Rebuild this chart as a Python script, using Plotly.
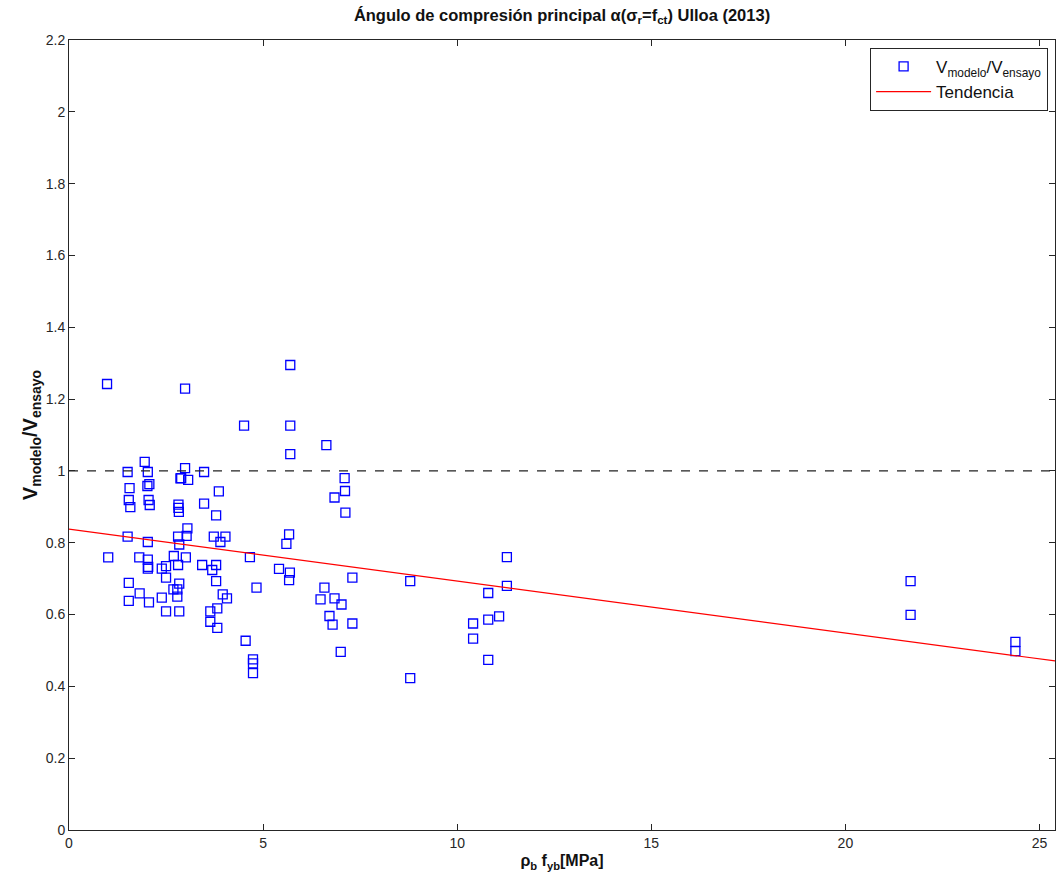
import numpy as np
import plotly.graph_objects as go

x_vals = [0.98, 1.01, 1.51, 1.56, 1.54, 1.58, 1.51, 1.54, 1.54, 1.81, 1.82,
          1.95, 2.03, 2.07, 2.02, 2.05, 2.08, 2.03, 2.03, 2.04, 2.03, 2.06,
          2.99, 4.51, 2.99, 3.48, 2.87, 2.89, 3.07, 3.86, 2.82, 2.82, 2.83, 3.48,
          3.79, 3.05, 2.81, 3.03, 2.84, 3.73, 4.03, 3.90, 2.70, 3.01, 2.81,
          2.50, 2.39, 2.50, 3.43, 3.79, 3.69, 3.79, 4.66, 2.84, 2.69, 2.79,
          2.79, 2.39, 3.96, 4.07, 4.83, 2.50, 2.84, 3.82, 3.64, 3.64, 3.82,
          4.55, 4.74, 4.74, 4.74, 6.84, 7.11, 7.12, 7.10, 5.67, 5.60, 5.41,
          5.69, 5.67, 7.30, 6.58, 6.48, 6.84, 7.02, 6.71, 6.79, 7.30, 7.00,
          5.70, 5.70, 6.63, 5.70, 11.28, 8.79, 11.28, 10.80, 11.08, 10.80,
          10.41, 10.41, 10.80, 8.79, 21.68, 21.68, 24.38, 24.38]
y_vals = [1.242, 0.759, 0.997, 0.952, 0.919, 0.899, 0.817, 0.688, 0.638, 0.759, 0.659,
          1.025, 0.997, 0.963, 0.958, 0.919, 0.905, 0.802, 0.753, 0.733, 0.728, 0.634,
          1.229, 1.126, 1.008, 0.997, 0.979, 0.980, 0.975, 0.943, 0.906, 0.897, 0.886, 0.909,
          0.876, 0.840, 0.817, 0.819, 0.795, 0.817, 0.817, 0.802, 0.763, 0.759, 0.738,
          0.735, 0.728, 0.703, 0.738, 0.738, 0.724, 0.693, 0.760, 0.686, 0.670, 0.670,
          0.650, 0.647, 0.656, 0.645, 0.675, 0.609, 0.609, 0.617, 0.609, 0.580, 0.563,
          0.527, 0.475, 0.464, 0.437, 0.926, 0.944, 0.884, 0.980, 0.823, 0.797, 0.727,
          0.717, 0.696, 0.703, 0.675, 0.642, 0.645, 0.628, 0.596, 0.572, 0.575, 0.496,
          1.295, 1.126, 1.072, 1.047, 0.760, 0.693, 0.680, 0.660, 0.595, 0.586,
          0.575, 0.533, 0.474, 0.423, 0.693, 0.599, 0.524, 0.498]

trend_x = [0.0, 25.4]
trend_intercept = 0.838
trend_slope = -0.01446
ref_level = 1.0

x_range = [0, 25.4]
y_range = [0, 2.2]
y_ticks = [0, 0.2, 0.4, 0.6, 0.8, 1, 1.2, 1.4, 1.6, 1.8, 2, 2.2]
y_ticktext = ["0", "0.2", "0.4", "0.6", "0.8", "1", "1.2", "1.4", "1.6", "1.8", "2", "2.2"]
x_ticks = [0, 5, 10, 15, 20, 25]

font_family = "Liberation Sans, Arial, sans-serif"

fig = go.Figure()
fig.add_trace(go.Scatter(
    x=x_vals, y=y_vals, mode="markers",
    name="V<sub>modelo</sub>/V<sub>ensayo</sub>",
    marker=dict(symbol="square-open", size=9, color="#0000ff", line=dict(width=1.3, color="#0000ff")),
))
tx = np.array(trend_x)
fig.add_trace(go.Scatter(
    x=tx, y=trend_intercept + trend_slope * tx, mode="lines",
    name="Tendencia", line=dict(color="#ff0000", width=1.2),
))
fig.add_trace(go.Scatter(
    x=x_range, y=[ref_level, ref_level], mode="lines", showlegend=False,
    line=dict(color="#222222", width=1.3, dash="dash"), hoverinfo="skip",
))

axis_common = dict(
    showgrid=False, zeroline=False, showline=True, linecolor="#262626", linewidth=1,
    mirror="ticks", ticks="inside", ticklen=6, tickcolor="#262626",
    tickfont=dict(family=font_family, size=14, color="#262626"),
)

fig.update_layout(
    width=1057, height=883,
    margin=dict(l=69, r=2, t=40, b=53),
    paper_bgcolor="white", plot_bgcolor="white",
    font=dict(family=font_family, color="#262626"),
    title=dict(
        text="<b>Ángulo de compresión principal α(σ<sub>r</sub>=f<sub>ct</sub>) Ulloa (2013)</b>",
        x=0.5, xref="paper", xanchor="center", y=0.983, yanchor="middle",
        font=dict(family=font_family, size=16.5, color="#111111"),
    ),
    xaxis=dict(range=x_range, tickvals=x_ticks,
               title=dict(text="<b>ρ<sub>b</sub> f<sub>yb</sub>[MPa]</b>", standoff=5,
                          font=dict(family=font_family, size=16, color="#111111")),
               **axis_common),
    yaxis=dict(range=y_range, tickvals=y_ticks, ticktext=y_ticktext,
               title=dict(text="<b>V<sub>modelo</sub>/V<sub>ensayo</sub></b>", standoff=2,
                          font=dict(family=font_family, size=20, color="#111111")),
               **axis_common),
    legend=dict(
        x=0.993, y=0.99, xanchor="right", yanchor="top",
        bgcolor="white", bordercolor="#262626", borderwidth=1,
        font=dict(family=font_family, size=17, color="#111111"),
        itemwidth=55, tracegroupgap=0,
    ),
    showlegend=True,
)

fig.write_html("out.html")
